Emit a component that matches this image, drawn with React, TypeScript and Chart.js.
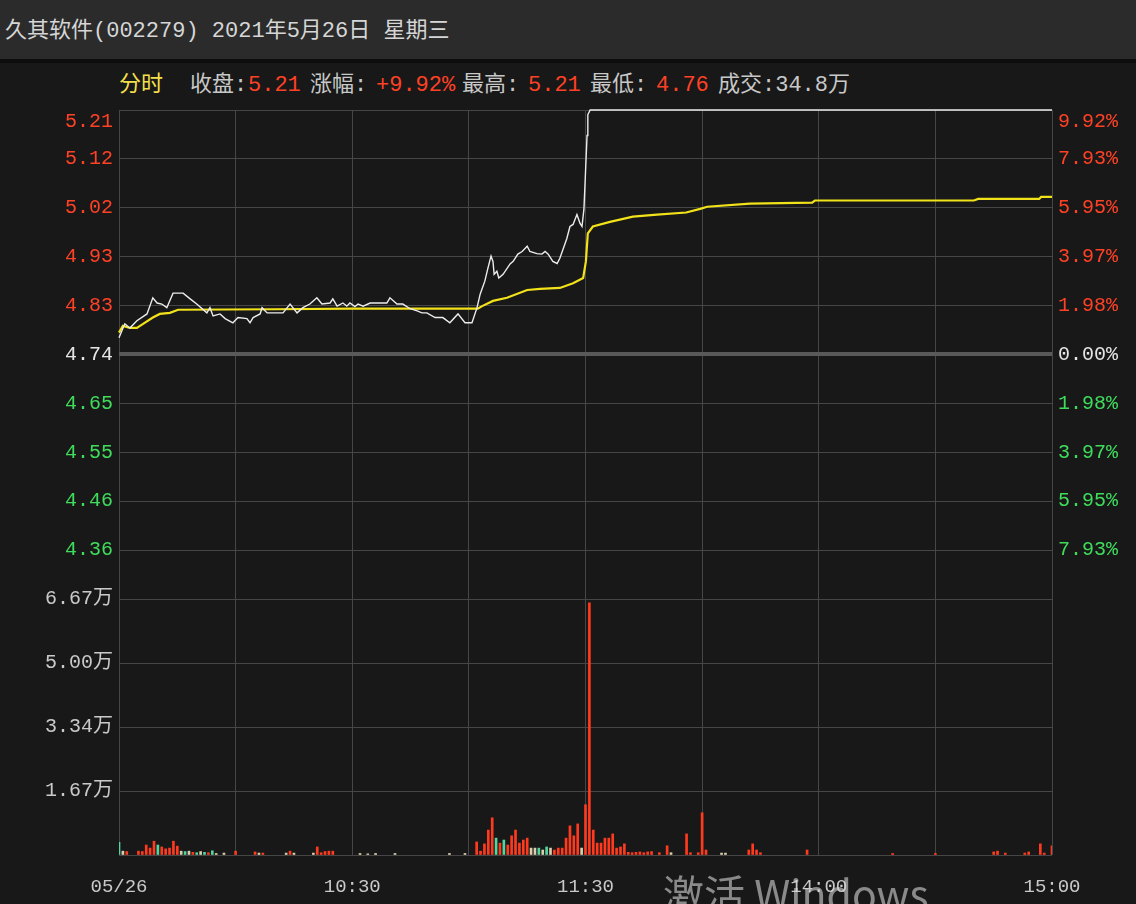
import React, { useEffect, useRef } from 'react';
import { Chart, registerables } from 'chart.js';

Chart.register(...registerables);

// ---------- text ----------
const titleText = '久其软件(002279) 2021年5月26日 星期三';
const infoLabels = ['收盘:', '涨幅:', '最高:', '最低:', '成交:34.8万'];
const infoValues = ['5.21', '+9.92%', '5.21', '4.76', ''];
const modeLabel = '分时';
const watermark = '激活 Windows';

// ---------- price (white) : minute index from 9:30 (0..240) ----------
const priceMinutes = [
  0, 1.5, 2.8, 4.6, 7.2, 8.7, 9.8, 11, 12.3, 13.9, 16.5, 18.3, 20, 22.6, 23.4, 24.2, 26, 27.3, 29.3, 30.6,
  32.9, 33.7, 34.5, 36.3, 36.8, 38.1, 42.2, 44, 45.8, 47.3, 49.1, 50.9, 52.2, 54.3, 55, 56.1, 57.6, 58.6,
  59.4, 60.7, 61.5, 62.8, 64.6, 68.9, 69.7, 71.5, 73, 74.9, 76.7, 77.9, 79.2, 81.3, 83.3, 85.1, 87.2, 89,
  90.8, 92.1, 92.9, 94.1, 94.9, 95.7, 96.2, 96.5, 97.2, 97.7, 98.8, 100.6, 101.4, 102.6, 103.7, 105, 105.7,
  107.5, 108.8, 109.6, 110.4, 111.6, 112.7, 113.4, 114.2, 115.2, 116, 116.8, 117.8, 118.6, 119.1, 119.6,
  119.9, 120.4, 120.6, 121.2, 240,
];
const priceValues = [
  4.772, 4.799, 4.791, 4.805, 4.818, 4.849, 4.839, 4.837, 4.83, 4.858, 4.858, 4.847, 4.837, 4.82, 4.83, 4.814,
  4.818, 4.809, 4.801, 4.811, 4.809, 4.801, 4.811, 4.818, 4.83, 4.82, 4.82, 4.837, 4.82, 4.83, 4.837, 4.849,
  4.837, 4.839, 4.847, 4.833, 4.839, 4.833, 4.839, 4.832, 4.837, 4.833, 4.839, 4.839, 4.849, 4.837, 4.837,
  4.828, 4.824, 4.82, 4.82, 4.811, 4.811, 4.801, 4.818, 4.801, 4.801, 4.83, 4.856, 4.881, 4.906, 4.929,
  4.919, 4.894, 4.9, 4.887, 4.894, 4.914, 4.919, 4.933, 4.938, 4.948, 4.938, 4.934, 4.933, 4.938, 4.933,
  4.919, 4.915, 4.925, 4.942, 4.963, 4.986, 4.99, 5.009, 4.992, 4.986, 5.02, 5.072, 5.161, 5.201, 5.21, 5.21,
];

// ---------- average price (yellow) ----------
const avgMinutes = [
  0, 1, 2.8, 4.6, 6.2, 8.7, 10.5, 13.1, 15.2, 40, 60, 89.5, 92.3, 93.4, 96.2, 99.8, 105, 108.3, 113.4,
  116.8, 119.4, 120.1, 120.6, 121.9, 126.3, 132.2, 138.4, 145.9, 149.5, 151.3, 162.3, 178.3, 179, 219.9,
  221, 236.7, 237.2, 240,
];
const avgValues = [
  4.782, 4.795, 4.791, 4.791, 4.799, 4.811, 4.818, 4.82, 4.826, 4.827, 4.828, 4.828, 4.828, 4.833, 4.843,
  4.849, 4.864, 4.866, 4.868, 4.877, 4.887, 4.919, 4.973, 4.986, 4.995, 5.005, 5.009, 5.013, 5.02, 5.024,
  5.03, 5.032, 5.036, 5.036, 5.039, 5.039, 5.043, 5.043,
];

// ---------- volume ----------
const volMinutes = [
  0, 1, 2, 5, 6, 7, 8, 9, 10, 11, 12, 13, 14, 15, 16, 17, 18, 19, 20, 21, 22, 23, 24, 25, 27, 30, 35, 36, 37,
  43, 44, 45, 50, 51, 52, 53, 54, 55, 62, 64, 66, 71, 85, 89, 92, 93, 94, 95, 96, 97, 98, 99, 100, 101, 102,
  103, 104, 105, 106, 107, 108, 109, 110, 111, 112, 113, 114, 115, 116, 117, 118, 119, 120, 121, 122, 123,
  124, 125, 126, 127, 128, 129, 130, 131, 132, 133, 134, 135, 136, 137, 139, 141, 142, 146, 147, 149, 150,
  151, 155, 156, 162, 163, 164, 165, 177, 199, 210, 225, 226, 228, 233, 234, 237, 238, 240,
];
const volValues = [
  3300, 1000, 900, 1000, 900, 2600, 1800, 3600, 2600, 2100, 1600, 1800, 3600, 2300, 1000, 900, 1000, 700, 600,
  900, 700, 600, 1100, 400, 500, 1000, 800, 500, 500, 500, 1000, 500, 500, 2100, 600, 900, 1000, 1000, 400,
  300, 400, 400, 400, 400, 3400, 1000, 2900, 6500, 9700, 4400, 3100, 3900, 2600, 5000, 6500, 3100, 3900, 4400,
  1800, 1800, 1800, 1300, 2100, 1800, 1300, 1800, 1800, 4400, 7600, 5000, 8100, 1800, 13100, 65700, 6500,
  3100, 3100, 4400, 4400, 5500, 1800, 2100, 2900, 700, 600, 700, 800, 600, 800, 900, 600, 2400, 600, 5500,
  600, 600, 11000, 1300, 500, 500, 1300, 2900, 1300, 600, 1300, 400, 400, 800, 1000, 500, 500, 800, 2900, 500,
  2400,
];
// u = up (red), d = down (green), n = flat (pale)
const volDirs = [
  'd', 'n', 'u', 'u', 'u', 'u', 'u', 'u', 'd', 'u', 'u', 'u', 'u', 'u', 'n', 'd', 'n', 'u', 'd', 'n', 'd', 'u',
  'd', 'n', 'n', 'u', 'u', 'n', 'u', 'n', 'u', 'n', 'n', 'u', 'u', 'u', 'u', 'u', 'n', 'n', 'n', 'n', 'n', 'n',
  'u', 'u', 'u', 'u', 'u', 'd', 'u', 'd', 'u', 'u', 'u', 'u', 'u', 'u', 'n', 'n', 'd', 'n', 'd', 'n', 'u', 'u',
  'u', 'u', 'u', 'u', 'u', 'n', 'u', 'u', 'u', 'u', 'u', 'u', 'u', 'u', 'u', 'u', 'u', 'u', 'u', 'u', 'u', 'u',
  'u', 'u', 'u', 'u', 'n', 'u', 'u', 'u', 'u', 'u', 'n', 'n', 'u', 'u', 'u', 'u', 'u', 'u', 'u', 'u', 'u', 'u',
  'u', 'u', 'u', 'u', 'u',
];

// ---------- axes ----------
const priceTickValues = [4.27, 4.364, 4.458, 4.552, 4.646, 4.74, 4.834, 4.928, 5.022, 5.116, 5.21];
const priceTickLabels = ['', '4.36', '4.46', '4.55', '4.65', '4.74', '4.83', '4.93', '5.02', '5.12', '5.21'];
const pctTickLabels = ['', '7.93%', '5.95%', '3.97%', '1.98%', '0.00%', '1.98%', '3.97%', '5.95%', '7.93%', '9.92%'];
const volTickValues = [0, 16675, 33350, 50025, 66700];
const volTickLabels = ['', '1.67万', '3.34万', '5.00万', '6.67万'];
const timeTickValues = [0, 30, 60, 90, 120, 150, 180, 210, 240];
const timeTickLabels = ['05/26', '', '10:30', '', '11:30', '', '14:00', '', '15:00'];

const RED = '#ff4126';
const GREEN = '#3fdc5c';
const WHITE = '#e6e6e6';
const GRID = '#464646';
const MONO = '"Liberation Mono", "Noto Sans CJK SC", monospace';

const dirColor = (d: string) => (d === 'u' ? '#ff3a1e' : d === 'd' ? '#52d6a0' : '#d9cfae');

const noPad = (s: any) => {
  s.paddingTop = 0;
  s.paddingBottom = 0;
  s.paddingLeft = 0;
  s.paddingRight = 0;
};

export default function App() {
  const priceRef = useRef<HTMLCanvasElement>(null);
  const volRef = useRef<HTMLCanvasElement>(null);

  useEffect(() => {
    const zeroIdx = 5;
    const priceChart = new Chart(priceRef.current!, {
      type: 'line',
      data: {
        datasets: [
          {
            data: priceMinutes.map((m, i) => ({ x: m, y: priceValues[i] })),
            borderColor: '#ececec',
            borderWidth: 1.4,
            pointRadius: 0,
            tension: 0,
            clip: false as any,
          },
          {
            data: avgMinutes.map((m, i) => ({ x: m, y: avgValues[i] })),
            borderColor: '#f2e21a',
            borderWidth: 2.2,
            pointRadius: 0,
            tension: 0,
            clip: false as any,
          },
        ],
      },
      options: {
        animation: false,
        responsive: false,
        maintainAspectRatio: false,
        events: [],
        layout: { padding: { top: 110, bottom: 1, left: 0, right: 0 } },
        plugins: { legend: { display: false }, tooltip: { enabled: false } },
        scales: {
          x: {
            type: 'linear',
            min: 0,
            max: 240,
            afterBuildTicks: (s: any) => {
              s.ticks = timeTickValues.map((v) => ({ value: v }));
            },
            ticks: { display: false, autoSkip: false },
            grid: { color: GRID, drawTicks: false, lineWidth: 1 },
            border: { display: false },
            afterFit: (s: any) => {
              s.height = 0;
              noPad(s);
            },
          },
          y: {
            type: 'linear',
            position: 'left',
            min: 4.27,
            max: 5.21,
            afterBuildTicks: (s: any) => {
              s.ticks = priceTickValues.map((v) => ({ value: v }));
            },
            ticks: {
              autoSkip: false,
              padding: 6,
              font: { family: MONO, size: 20 },
              color: (ctx: any) => (ctx.index > zeroIdx ? RED : ctx.index < zeroIdx ? GREEN : WHITE),
              callback: (_v: any, i: number) =>
                i === priceTickLabels.length - 1 ? ['', priceTickLabels[i]] : priceTickLabels[i],
            },
            grid: {
              color: (ctx: any) => (ctx.index === zeroIdx ? '#595959' : GRID),
              lineWidth: (ctx: any) => (ctx.index === zeroIdx ? 4 : 1),
              drawTicks: false,
            },
            border: { display: false },
            afterFit: (s: any) => {
              s.width = 119;
              noPad(s);
            },
          },
          yR: {
            type: 'linear',
            position: 'right',
            min: 4.27,
            max: 5.21,
            afterBuildTicks: (s: any) => {
              s.ticks = priceTickValues.map((v) => ({ value: v }));
            },
            ticks: {
              autoSkip: false,
              padding: 6,
              font: { family: MONO, size: 20 },
              color: (ctx: any) => (ctx.index > zeroIdx ? RED : ctx.index < zeroIdx ? GREEN : WHITE),
              callback: (_v: any, i: number) =>
                i === pctTickLabels.length - 1 ? ['', pctTickLabels[i]] : pctTickLabels[i],
            },
            grid: { drawOnChartArea: false, drawTicks: false },
            border: { display: false },
            afterFit: (s: any) => {
              s.width = 84;
              noPad(s);
            },
          },
        },
      },
    } as any);

    const volChart = new Chart(volRef.current!, {
      type: 'bar',
      data: {
        datasets: [
          {
            data: volMinutes.map((m, i) => ({ x: m, y: volValues[i] })),
            backgroundColor: volDirs.map(dirColor),
            barThickness: 2,
            grouped: false,
          },
        ],
      },
      options: {
        animation: false,
        responsive: false,
        maintainAspectRatio: false,
        events: [],
        layout: { padding: { top: 19, bottom: 0, left: 0, right: 84 } },
        plugins: { legend: { display: false }, tooltip: { enabled: false } },
        scales: {
          x: {
            type: 'linear',
            offset: false,
            min: 0,
            max: 240,
            afterBuildTicks: (s: any) => {
              s.ticks = timeTickValues.map((v) => ({ value: v }));
            },
            ticks: {
              autoSkip: false,
              maxRotation: 0,
              padding: 21,
              color: '#c9c9c9',
              font: { family: MONO, size: 19 },
              callback: (_v: any, i: number) => timeTickLabels[i],
            },
            grid: { color: GRID, drawTicks: false, lineWidth: 1, offset: false },
            border: { display: false },
            afterFit: (s: any) => {
              s.height = 49;
              noPad(s);
            },
          },
          y: {
            type: 'linear',
            position: 'left',
            min: 0,
            max: 66700,
            afterBuildTicks: (s: any) => {
              s.ticks = volTickValues.map((v) => ({ value: v }));
            },
            ticks: {
              autoSkip: false,
              padding: 6,
              color: '#c9c9c9',
              font: { family: MONO, size: 20 },
              callback: (_v: any, i: number) => volTickLabels[i],
            },
            grid: { color: GRID, drawTicks: false, lineWidth: 1 },
            border: { display: false },
            afterFit: (s: any) => {
              s.width = 119;
              noPad(s);
            },
          },
        },
      },
    } as any);

    return () => {
      priceChart.destroy();
      volChart.destroy();
    };
  }, []);

  const infoX = [190, 248, 310, 376, 462, 528, 590, 656, 718];
  const infoSeq: { t: string; c: string }[] = [];
  infoLabels.forEach((l, i) => {
    infoSeq.push({ t: l, c: '#c8c8c8' });
    if (infoValues[i]) infoSeq.push({ t: infoValues[i], c: RED });
  });

  const textBase: React.CSSProperties = {
    position: 'absolute',
    fontFamily: MONO,
    whiteSpace: 'pre',
    lineHeight: '24px',
  };

  return (
    <div
      style={{
        position: 'fixed',
        left: 0,
        top: 0,
        width: 1136,
        height: 904,
        overflow: 'hidden',
        background: '#181818',
      }}
    >
      <div style={{ position: 'absolute', left: 0, top: 0, width: 1136, height: 59, background: '#2b2b2b' }} />
      <div style={{ position: 'absolute', left: 0, top: 59, width: 1136, height: 4, background: '#0d0d0d' }} />
      <div style={{ ...textBase, left: 5, top: 20, fontSize: 22, color: '#d6d6d6' }}>{titleText}</div>
      <div style={{ ...textBase, left: 119, top: 74, fontSize: 22, color: '#f3df4a' }}>{modeLabel}</div>
      {infoSeq.map((s, i) => (
        <div key={i} style={{ ...textBase, left: infoX[i], top: 74, fontSize: 22, color: s.c }}>
          {s.t}
        </div>
      ))}
      <canvas
        ref={priceRef}
        width={1136}
        height={600}
        style={{ position: 'absolute', left: 0, top: 0, width: 1136, height: 600 }}
      />
      <canvas
        ref={volRef}
        width={1136}
        height={324}
        style={{ position: 'absolute', left: 0, top: 580, width: 1136, height: 324 }}
      />
      <div
        style={{
          position: 'absolute',
          left: 663,
          top: 868,
          fontSize: 41,
          lineHeight: '48px',
          fontFamily: '"Noto Sans CJK SC", "Open Sans", sans-serif',
          color: 'rgba(215,215,215,0.6)',
          whiteSpace: 'pre',
        }}
      >
        {watermark}
      </div>
    </div>
  );
}
